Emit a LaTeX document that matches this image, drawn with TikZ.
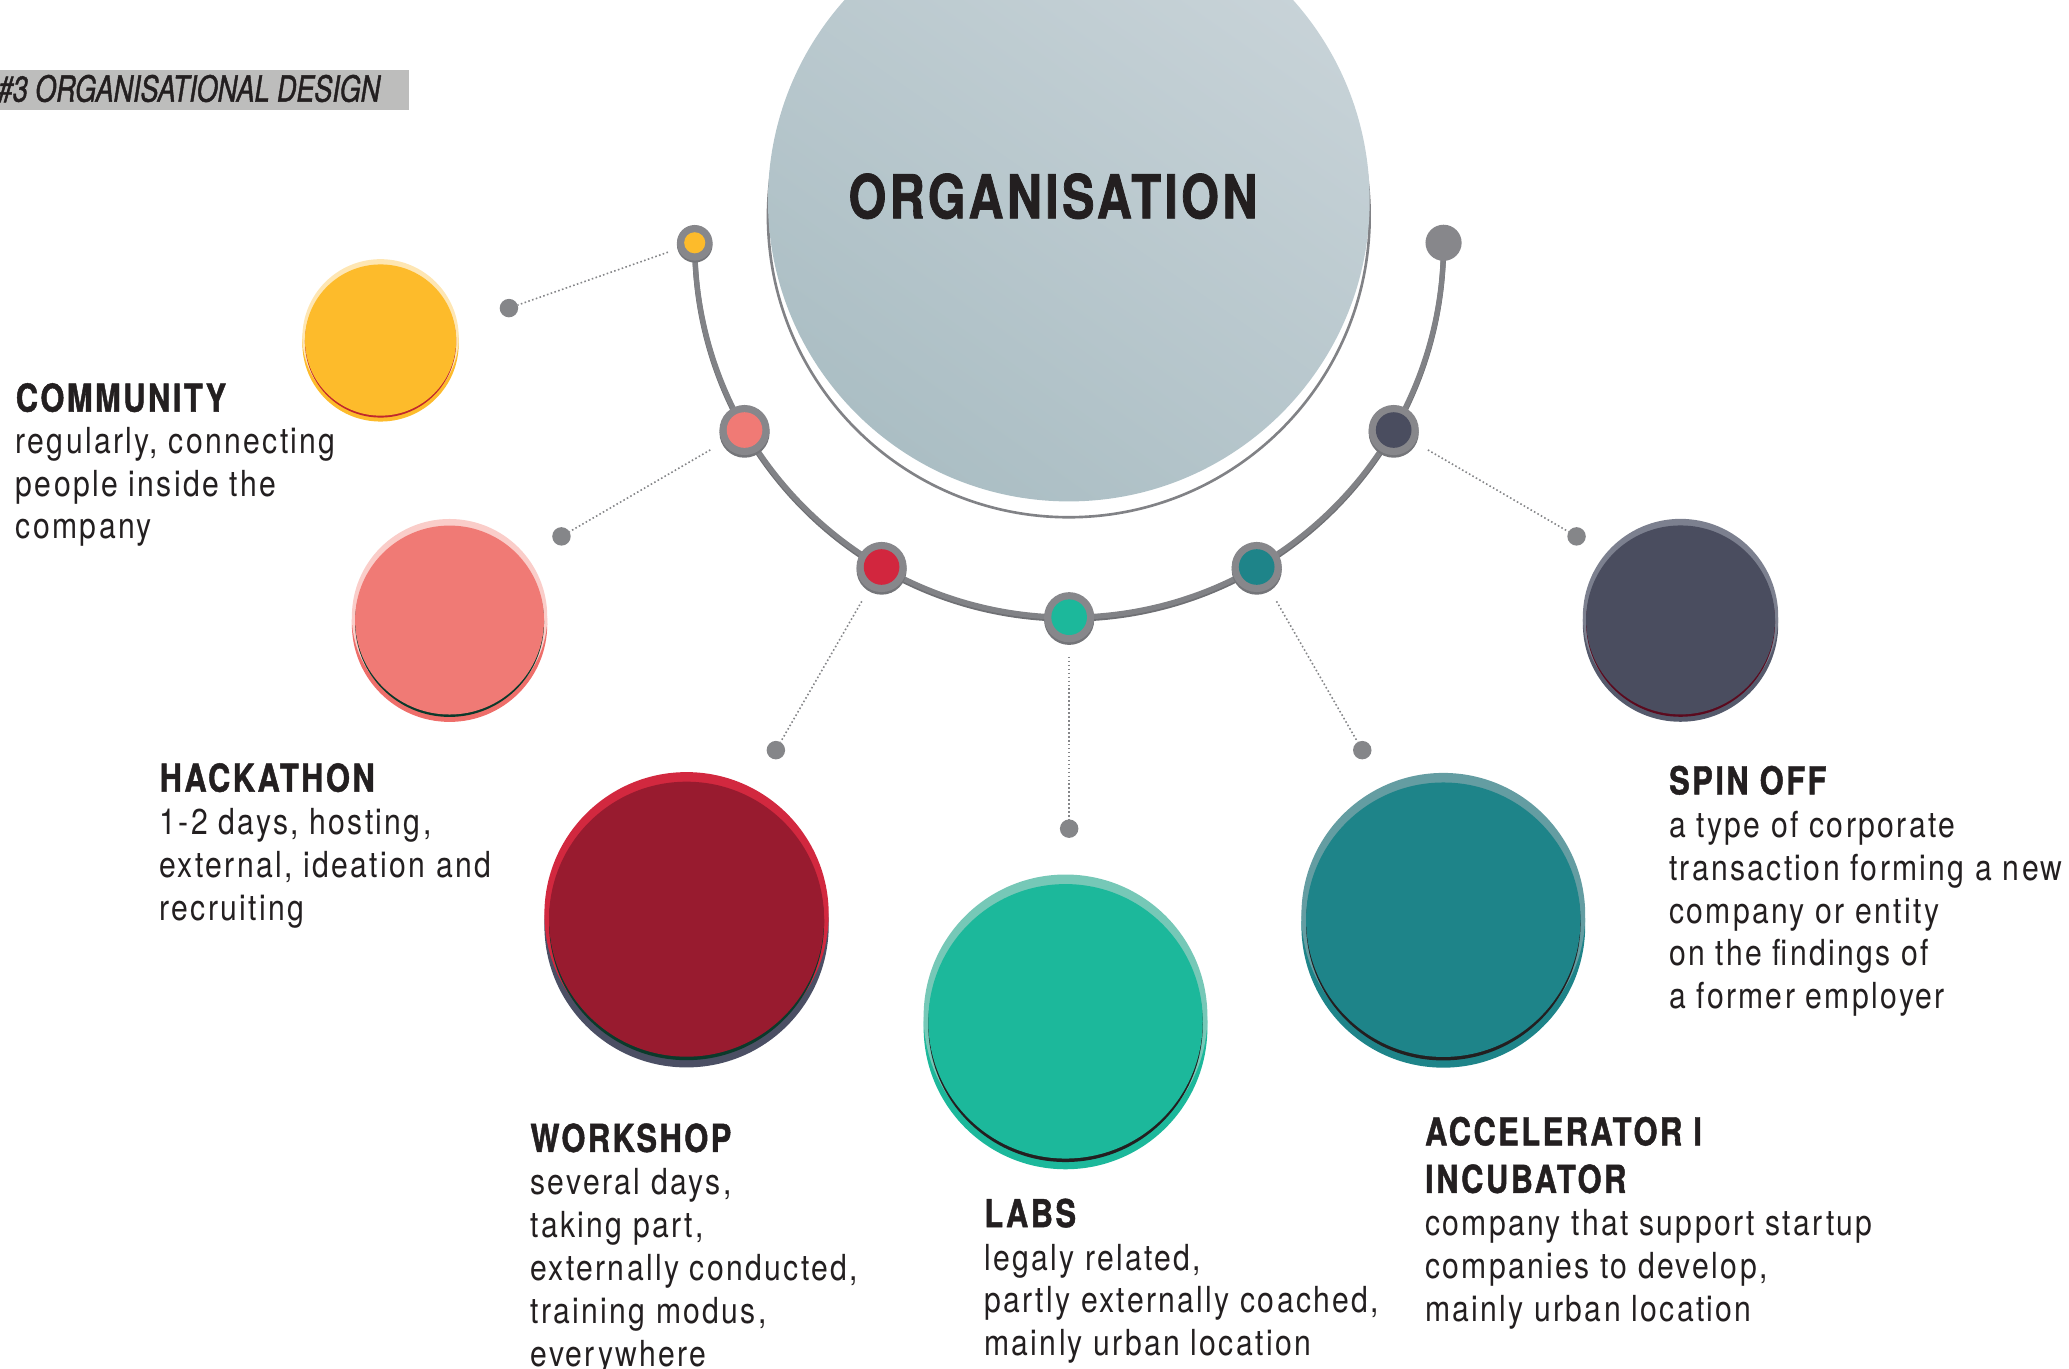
\documentclass[tikz,border=0pt]{standalone}
\usepackage{fontspec}
\setmainfont{TeX Gyre Heros}[FakeStretch=0.84,LetterSpace=6.5]
\newfontfamily\headfont{TeX Gyre Heros}[FakeStretch=0.8,LetterSpace=6.5,BoldFeatures={FakeBold=1.2}]
\newfontfamily\orgfont{TeX Gyre Heros}[FakeStretch=0.8,LetterSpace=5.5,BoldFeatures={FakeBold=1.2}]
\newfontfamily\hdrfont{TeX Gyre Heros}[FakeStretch=0.75,ItalicFeatures={FakeBold=1.2}]
\usetikzlibrary{calc}
\definecolor{ink}{HTML}{231F20}
\definecolor{hdrgray}{HTML}{BDBDBC}
\definecolor{orgtop}{HTML}{C8D3D8}
\definecolor{orgbot}{HTML}{ABBEC4}
\definecolor{arcgray}{HTML}{818286}
\definecolor{arcdark}{HTML}{6F7074}
\definecolor{ringgray}{HTML}{87878B}
\definecolor{ringshadow}{HTML}{747579}
\definecolor{dotgray}{HTML}{858689}
\definecolor{yelM}{HTML}{FDBB2B}
\definecolor{yelL}{HTML}{FEE6B3}
\definecolor{yelLine}{HTML}{C0272D}
\definecolor{pinkM}{HTML}{F07A75}
\definecolor{pinkL}{HTML}{FACDC9}
\definecolor{pinkS}{HTML}{EE6E6A}
\definecolor{greenLine}{HTML}{0B3A2B}
\definecolor{wrkM}{HTML}{981B2F}
\definecolor{wrkL}{HTML}{D2283F}
\definecolor{wrkS}{HTML}{4B4F64}
\definecolor{redN}{HTML}{D2263E}
\definecolor{labM}{HTML}{1CB89B}
\definecolor{labL}{HTML}{76C8B7}
\definecolor{blackLine}{HTML}{231F20}
\definecolor{accM}{HTML}{1E8489}
\definecolor{accL}{HTML}{649DA2}
\definecolor{spnM}{HTML}{4A4D5F}
\definecolor{spnL}{HTML}{7C808F}
\definecolor{spnS}{HTML}{555A6C}
\definecolor{spnLine}{HTML}{5B0A1E}
\newcommand\headstyle{\headfont\fontsize{14.6}{16}\selectfont\bfseries}
\newcommand\txtblock[2]{\vtop{\baselineskip=#1\lineskiplimit=-100pt #2}}
% #1 name, #2 x, #3 y, #4 r, #5 main, #6 light, #7 shadow, #8 line
\newcommand\mybub[8]{%
  \pgfmathsetmacro\bd{#4*0.034}%
  \fill[#7] (#2,#3+\bd*1.3) circle[radius=#4+\bd];
  \fill[#6] (#2,#3-\bd*1.05) circle[radius=#4+\bd];
  \fill[#8] (#2,#3+\bd*0.75) circle[radius=#4];
  \node[circle,fill=#5,minimum size=#4pt,inner sep=0pt,outer sep=0pt] (#1) at (#2,#3) {};
}
\begin{document}
\begin{tikzpicture}[x=0.5pt,y=-0.5pt,
  txt/.style={anchor=base west,inner sep=0pt,outer sep=0pt,text=ink,font=\fontsize{13.6}{16.25}\selectfont},
  ringnode/.style={circle,fill=ringgray,minimum size=19pt,inner sep=0pt,outer sep=0pt},
  smallring/.style={circle,fill=ringgray,minimum size=13.5pt,inner sep=0pt,outer sep=0pt},
  enddot/.style={circle,fill=ringgray,minimum size=13.7pt,inner sep=0pt,outer sep=0pt},
  dotnode/.style={circle,fill=dotgray,minimum size=7pt,inner sep=0pt,outer sep=0pt},
  dotline/.style={draw=dotgray,line width=0.6pt,dash pattern=on 0.6pt off 0.9pt},
  arcline/.style={draw=arcgray,line width=2pt},
]
\useasboundingbox (0,0) rectangle (1568,1037.5);
\begin{scope}
\clip (0,0) rectangle (1568,1037.5);
% header
\fill[hdrgray] (-5,53) rectangle (310,83);
\node[anchor=base west,inner sep=0pt,text=ink,font=\hdrfont\itshape\fontsize{13.6}{15}\selectfont] (hdr) at (-2,77) {\#3 ORGANISATIONAL DESIGN};
% central circle
\draw[draw=arcgray,line width=1pt] (810,164) circle[radius=228];
\node[circle,minimum size=228pt,inner sep=0pt,outer sep=0pt,top color=orgtop,bottom color=orgbot,shading angle=-35] (orgc) at (810,152) {};
\node[anchor=base,inner sep=0pt,text=ink,font=\orgfont\bfseries\fontsize{23}{26}\selectfont] (org) at (798,165.5) {ORGANISATION};
% arc positions
\coordinate (c0) at (526.5,184);
\coordinate (c1) at (564.25,325.9);
\coordinate (c2) at (668.1,429.7);
\coordinate (c3) at (810.25,467.75);
\coordinate (c4) at (952.4,429.7);
\coordinate (c5) at (1056.2,325.9);
\coordinate (c6) at (1094,184);
\draw[arcline,draw=arcdark] ([yshift=-0.7pt]c0) arc[start angle=180,end angle=0,radius=283.75];
\draw[arcline] (c0) arc[start angle=180,end angle=0,radius=283.75];
% big bubbles
\mybub{bcom}{288.4}{257.7}{57.3}{yelM}{yelL}{yelM}{yelLine}
\mybub{bhack}{340.7}{469.9}{71.6}{pinkM}{pinkL}{pinkS}{greenLine}
\mybub{bwork}{520.3}{696.6}{104.2}{wrkM}{wrkL}{wrkS}{greenLine}
\mybub{blabs}{807.5}{774}{104}{labM}{labL}{labM}{blackLine}
\mybub{bacc}{1093.8}{697}{104}{accM}{accL}{accM}{blackLine}
\mybub{bspin}{1273.6}{469.8}{71.6}{spnM}{spnL}{spnS}{spnLine}
% small nodes on the arc
\foreach \c in {c1,c2,c3,c4,c5}{\fill[ringshadow] ($(\c)+(0,2)$) circle[radius=19];}
\fill[ringshadow] ($(c0)+(0,1.5)$) circle[radius=13.5];
\node[smallring] (n0) at (c0) {};
\node[ringnode] (n1) at (c1) {};
\node[ringnode] (n2) at (c2) {};
\node[ringnode] (n3) at (c3) {};
\node[ringnode] (n4) at (c4) {};
\node[ringnode] (n5) at (c5) {};
\node[enddot] (n6) at (c6) {};
\fill[yelM] (n0) circle[radius=8];
\fill[pinkM] (n1) circle[radius=13.5];
\fill[redN] (n2) circle[radius=13.5];
\fill[labM] (n3) circle[radius=13.5];
\fill[accM] (n4) circle[radius=13.5];
\fill[spnM] (n5) circle[radius=13.5];
% dots and dotted connectors
\node[dotnode] (d0) at (385.7,233.5) {};
\node[dotnode] (d1) at (425.5,406.5) {};
\node[dotnode] (d2) at (588,568.5) {};
\node[dotnode] (d3) at (810.25,628) {};
\node[dotnode] (d4) at (1032.4,568.5) {};
\node[dotnode] (d5) at (1194.8,406.5) {};
\draw[dotline,shorten <=4pt] (n0) -- (d0);
\draw[dotline,shorten <=5.5pt] (n1) -- (d1);
\draw[dotline,shorten <=5.5pt] (n2) -- (d2);
\draw[dotline,shorten <=5.5pt] (n3) -- (d3);
\draw[dotline,shorten <=5.5pt] (n4) -- (d4);
\draw[dotline,shorten <=5.5pt] (n5) -- (d5);
% texts
\node[txt] (tcom) at (12,312) {\txtblock{16pt}{\hbox{\headstyle COMMUNITY}\hbox{regularly, connecting}\hbox{people inside the}\hbox{company}}};
\node[txt] (thack) at (121,600) {\txtblock{16.25pt}{\hbox{\headstyle HACKATHON}\hbox{1-2 days, hosting,}\hbox{external, ideation and}\hbox{recruiting}}};
\node[txt] (twork) at (402,873) {\txtblock{16.25pt}{\hbox{\headstyle WORKSHOP}\hbox{several days,}\hbox{taking part,}\hbox{externally conducted,}\hbox{training modus,}\hbox{everywhere}}};
\node[txt] (tlabs) at (746,930) {\txtblock{16.25pt}{\hbox{\headstyle LABS}\hbox{legaly related,}\hbox{partly externally coached,}\hbox{mainly urban location}}};
\node[txt] (tacc) at (1080,868) {\txtblock{16.25pt}{\hbox{\headstyle ACCELERATOR I}\vskip1.75pt\hbox{\headstyle INCUBATOR}\hbox{company that support startup}\hbox{companies to develop,}\hbox{mainly urban location}}};
\node[txt] (tspin) at (1265,602) {\txtblock{16.25pt}{\hbox{\headstyle SPIN OFF}\hbox{a type of corporate}\hbox{transaction forming a new}\hbox{company or entity}\hbox{on the findings of}\hbox{a former employer}}};
\end{scope}
\end{tikzpicture}
\end{document}
